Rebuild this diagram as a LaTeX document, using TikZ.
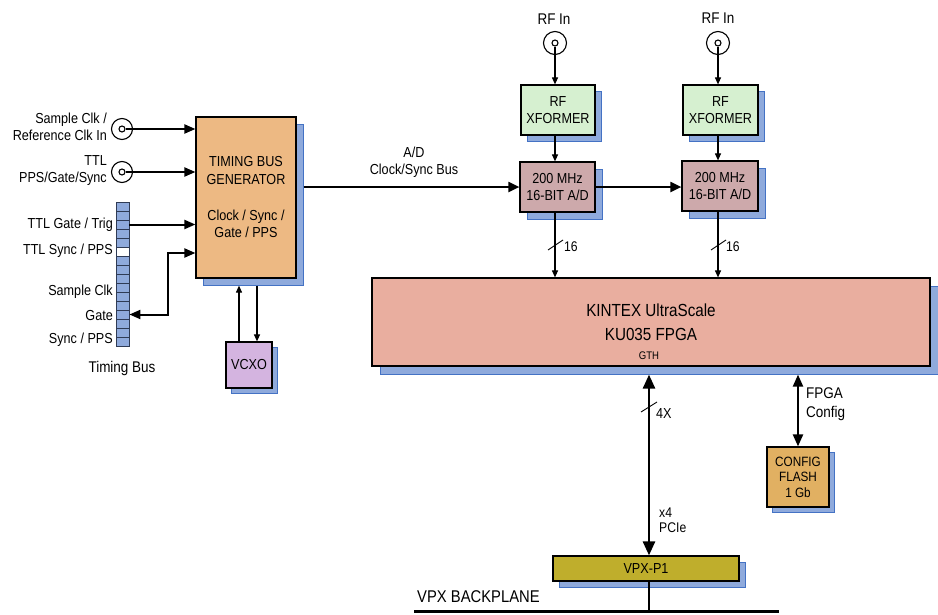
\documentclass[tikz,border=0pt]{standalone}
\usepackage{fontspec}
\setmainfont{Liberation Sans}[FakeStretch=0.87]
\usetikzlibrary{arrows.meta,shadows,calc}
\definecolor{shfill}{HTML}{8FAADC}
\definecolor{shdraw}{HTML}{4472C4}
\definecolor{genc}{HTML}{EDB983}
\definecolor{rfc}{HTML}{D6F0D0}
\definecolor{adc}{HTML}{CDA9AB}
\definecolor{fpgac}{HTML}{E9AE9F}
\definecolor{vcxoc}{HTML}{D4B4E0}
\definecolor{flashc}{HTML}{E1B062}
\definecolor{vpxc}{HTML}{BFAE2C}
\definecolor{cellc}{HTML}{8FAADC}
\definecolor{celldraw}{HTML}{2F3B55}
\newcommand\fsz[2]{\fontsize{#1}{#2}\selectfont}
\begin{document}
\begin{tikzpicture}[x=1pt,y=-1pt,
  box/.style={draw=black, line width=1.2pt, inner sep=0pt, align=center, font=\fsz{14.5}{17.5}},
  shad/.style={drop shadow={shadow xshift=#1, shadow yshift=-#1, fill=shfill, draw=shdraw, line width=1pt, opacity=1}},
  lbl/.style={inner sep=0pt, font=\fsz{14.5}{17.5}},
  cellbox/.style={draw=celldraw, line width=0.8pt, minimum width=13pt, minimum height=9pt, inner sep=0pt},
  coaxo/.style={circle, draw=black, line width=1.1pt, minimum size=#1, inner sep=0pt},
  coaxi/.style={circle, draw=black, line width=1.1pt, minimum size=6pt, inner sep=0pt},
  thk/.style={line width=2pt, -{Triangle[length=11pt,width=9pt]}},
  thkboth/.style={line width=2pt, {Triangle[length=11pt,width=9pt]}-{Triangle[length=11pt,width=9pt]}},
  thn/.style={line width=1.1pt, -{Triangle[length=7pt,width=6pt]}},
]
\useasboundingbox (0,0) rectangle (938,614);

% ---------- boxes ----------
\node[box, fill=genc, shad=7pt, minimum width=100pt, minimum height=161pt] (gen) at (246,197.5)
  {TIMING BUS\\GENERATOR\\[18.5pt]Clock / Sync /\\Gate / PPS};
\node[box, fill=vcxoc, shad=5pt, minimum width=46pt, minimum height=46pt] (vcxo) at (249,365) {VCXO};
\node[box, fill=rfc, shad=6pt, minimum width=74pt, minimum height=50pt] (rf1) at (558,110) {RF\\XFORMER};
\node[box, fill=rfc, shad=6pt, minimum width=75pt, minimum height=50pt] (rf2) at (720.5,110) {RF\\XFORMER};
\node[box, fill=adc, shad=7pt, minimum width=75pt, minimum height=50pt] (ad1) at (557.5,187) {200 MHz\\16-BIT A/D};
\node[box, fill=adc, shad=7pt, minimum width=76pt, minimum height=50pt] (ad2) at (720,186) {200 MHz\\16-BIT A/D};
\node[box, fill=fpgac, shad=8pt, minimum width=558pt, minimum height=88pt, font=\fsz{17.5}{24}] (fpga) at (651,322)
  {KINTEX UltraScale\\KU035 FPGA};
\node[lbl, font=\fsz{11}{13}] (gth) at (649,356) {GTH};
\node[box, fill=flashc, shad=5pt, minimum width=62pt, minimum height=60pt, font=\fsz{13.5}{15.5}] (flash) at (798,477)
  {CONFIG\\FLASH\\1 Gb};
\node[box, fill=vpxc, shad=6pt, minimum width=186pt, minimum height=25pt] (vpx) at (646,568.5) {VPX-P1};

% ---------- timing bus ----------
\foreach \i/\c in {0/cellc,1/cellc,2/cellc,3/cellc,4/cellc,5/white,6/cellc,7/cellc,8/cellc,9/cellc,10/cellc,11/cellc,12/cellc,13/cellc,14/cellc,15/cellc}
  \node[cellbox, fill=\c] (cell\i) at (122.5,{206.5+9*\i}) {};

% ---------- coax connectors ----------
\node[coaxo=21pt] (c1) at (122,129) {};
\node[coaxi] (c1i) at (c1) {};
\node[coaxo=21pt] (c2) at (122,172) {};
\node[coaxi] (c2i) at (c2) {};
\node[coaxo=23pt] (r1) at (555,43) {};
\node[coaxi] (r1i) at (r1) {};
\node[coaxo=23pt] (r2) at (718,43) {};
\node[coaxi] (r2i) at (r2) {};

% ---------- labels ----------
\node[lbl, anchor=east, align=right] (l1) at (107,127) {Sample Clk /\\Reference Clk In};
\node[lbl, anchor=east, align=right] (l2) at (107,170.5) {TTL\\PPS/Gate/Sync};
\node[lbl, anchor=east] (l3) at (113,225) {TTL Gate / Trig};
\node[lbl, anchor=east] (l4) at (113,251) {TTL Sync / PPS};
\node[lbl, anchor=east] (l5) at (113,292) {Sample Clk};
\node[lbl, anchor=east] (l6) at (113,316) {Gate};
\node[lbl, anchor=east] (l7) at (113,340) {Sync / PPS};
\node[lbl, font=\fsz{15.5}{18}] (tb) at (122,368) {Timing Bus};
\node[lbl, align=center] (adbus) at (414,162) {A/D\\Clock/Sync Bus};
\node[lbl, font=\fsz{15.5}{18}] (rfin1) at (554,19) {RF In};
\node[lbl, font=\fsz{15.5}{18}] (rfin2) at (718,18) {RF In};
\node[lbl, anchor=west, font=\fsz{14}{16}] (n16a) at (564,247) {16};
\node[lbl, anchor=west, font=\fsz{14}{16}] (n16b) at (726,247) {16};
\node[lbl, anchor=west, font=\fsz{14.5}{16}] (n4x) at (656,414) {4X};
\node[lbl, anchor=west, align=left, font=\fsz{15.5}{19}] (fcfg) at (806,404.5) {FPGA\\Config};
\node[lbl, anchor=west, align=left, font=\fsz{14}{15}] (pcie) at (659,520.5) {x4\\PCIe};
\node[lbl, anchor=west, font=\fsz{17}{19}] (bpl) at (417,597) {VPX BACKPLANE};

% ---------- helper coordinates ----------
\coordinate (gse) at ([xshift=7pt]gen.east);
\coordinate (gsb) at ([yshift=-7pt]gen.south);
\coordinate (fsb) at ([yshift=-8pt]fpga.south);
\coordinate (vup) at ([xshift=-10pt]vcxo.north);
\coordinate (vdn) at ([xshift=8pt]vcxo.north);
\coordinate (sj) at (168,253);
\coordinate (s1) at (555,245);
\coordinate (s2) at (718,245);
\coordinate (s3) at (649,407);
\coordinate (bpL) at (414,611);
\coordinate (bpR) at (779,611);

% ---------- connectors ----------
\draw[thk] (c1i.east) -- (c1i.east -| gen.west);
\draw[thk] (c2i.east) -- (c2i.east -| gen.west);
\draw[thk] (cell2.east) -- (cell2.east -| gen.west);
\draw[thkboth] (cell12.east) -| (sj) -- (sj -| gen.west);

\draw[thn] (vup) -- (vup |- gsb);
\draw[thn] (vdn |- gsb) -- (vdn);

\draw[line width=2pt, -{Triangle[length=11pt,width=10pt]}] (gse |- ad1.west) -- (ad1.west);
\draw[line width=2pt, -{Triangle[length=11pt,width=10pt]}] (ad1.east) -- (ad1.east -| ad2.west);

\draw[thn] (r1i.south) -- (r1i |- rf1.north);
\draw[thn] (r2i.south) -- (r2i |- rf2.north);
\draw[thn] (r1 |- rf1.south) -- (r1 |- ad1.north);
\draw[thn] (r2 |- rf2.south) -- (r2 |- ad2.north);
\draw[thn] (r1 |- ad1.south) -- (r1 |- fpga.north);
\draw[thn] (r2 |- ad2.south) -- (r2 |- fpga.north);
\draw[line width=0.9pt] ([shift={(-7,5)}]s1) -- ([shift={(8,-5)}]s1);
\draw[line width=0.9pt] ([shift={(-7,5)}]s2) -- ([shift={(8,-5)}]s2);

\draw[line width=2.6pt, {Triangle[length=14pt,width=12pt]}-{Triangle[length=14pt,width=12pt]}] (gth |- fsb) -- (gth |- vpx.north);
\draw[line width=0.9pt] ([shift={(-8,5)}]s3) -- ([shift={(8,-5)}]s3);
\draw[line width=2.2pt, {Triangle[length=12pt,width=10pt]}-{Triangle[length=12pt,width=10pt]}] (flash.north |- fsb) -- (flash.north);

\draw[line width=2.5pt] (gth |- vpx.south) -- (gth |- bpL);
\draw[line width=3pt] (bpL) -- (bpR);
\end{tikzpicture}
\end{document}
